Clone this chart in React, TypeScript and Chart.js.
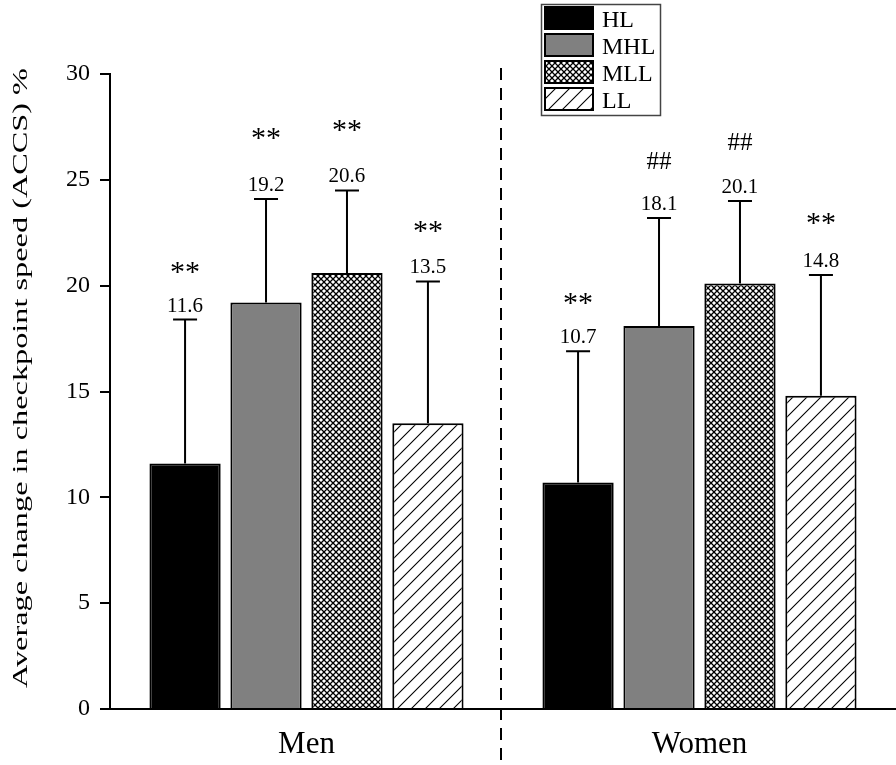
import React, { useEffect, useRef } from "react";
import { Chart, registerables } from "chart.js";

Chart.register(...registerables);

const categories = ["Men", "Women"];
const seriesLabels = ["HL", "MHL", "MLL", "LL"];
const hlValues = [11.6, 10.7];
const mhlValues = [19.2, 18.1];
const mllValues = [20.6, 20.1];
const llValues = [13.5, 14.8];
const hlSD = [6.8, 6.2];
const mhlSD = [4.9, 5.1];
const mllSD = [3.9, 3.9];
const llSD = [6.7, 5.7];
const hlMarks = ["**", "**"];
const mhlMarks = ["**", "##"];
const mllMarks = ["**", "##"];
const llMarks = ["**", "**"];
const hlMarkLevel = [20.9, 19.4];
const mhlMarkLevel = [27.2, 25.9];
const mllMarkLevel = [27.6, 26.8];
const llMarkLevel = [22.8, 23.2];
const yMin = 0;
const yMax = 30;
const yStep = 5;
const yTitle = "Average change in checkpoint speed (ACCS) %";

const SERIF = '"Liberation Serif", "Times New Roman", serif';

function makeCrossPattern(): CanvasPattern | string {
  const c = document.createElement("canvas");
  c.width = 6;
  c.height = 6;
  const g = c.getContext("2d");
  if (!g) return "#888";
  g.fillStyle = "#fff";
  g.fillRect(0, 0, 6, 6);
  g.strokeStyle = "#000";
  g.lineWidth = 1.3;
  g.beginPath();
  g.moveTo(0, 0);
  g.lineTo(6, 6);
  g.moveTo(6, 0);
  g.lineTo(0, 6);
  g.stroke();
  return g.createPattern(c, "repeat") || "#888";
}

function makeDiagPattern(): CanvasPattern | string {
  const s = 14;
  const c = document.createElement("canvas");
  c.width = s;
  c.height = s;
  const g = c.getContext("2d");
  if (!g) return "#fff";
  g.fillStyle = "#fff";
  g.fillRect(0, 0, s, s);
  g.strokeStyle = "#000";
  g.lineWidth = 1.1;
  g.beginPath();
  g.moveTo(0, s);
  g.lineTo(s, 0);
  g.moveTo(-2, 2);
  g.lineTo(2, -2);
  g.moveTo(s - 2, s + 2);
  g.lineTo(s + 2, s - 2);
  g.stroke();
  return g.createPattern(c, "repeat") || "#fff";
}

const annotationPlugin = {
  id: "annotations",
  afterDatasetsDraw(chart: any) {
    const ctx = chart.ctx;
    const yScale = chart.scales.y;
    ctx.save();
    chart.data.datasets.forEach((ds: any, i: number) => {
      const meta = chart.getDatasetMeta(i);
      meta.data.forEach((el: any, j: number) => {
        const v = ds.data[j];
        const sd = ds.sd[j];
        const x = el.x;
        const yTop = el.y;
        const yCap = yScale.getPixelForValue(v + sd);
        ctx.strokeStyle = "#000";
        ctx.lineWidth = 2;
        ctx.beginPath();
        ctx.moveTo(x, yTop);
        ctx.lineTo(x, yCap);
        ctx.moveTo(x - 12, yCap);
        ctx.lineTo(x + 12, yCap);
        ctx.stroke();
        ctx.fillStyle = "#000";
        ctx.textAlign = "center";
        ctx.textBaseline = "alphabetic";
        ctx.font = `21px ${SERIF}`;
        ctx.fillText(v.toFixed(1), x, yCap - 8);
        const mark = ds.marks[j];
        const my = yScale.getPixelForValue(ds.markLevel[j]);
        if (mark === "**") {
          ctx.font = `30px ${SERIF}`;
          ctx.fillText(mark, x, my + 14);
        } else {
          ctx.font = `25px ${SERIF}`;
          ctx.fillText(mark, x, my + 8);
        }
      });
    });
    ctx.restore();
  },
  afterDraw(chart: any) {
    const ctx = chart.ctx;
    const xScale = chart.scales.x;
    const area = chart.chartArea;
    ctx.save();
    // divider
    const xd = (xScale.getPixelForValue(0) + xScale.getPixelForValue(1)) / 2 - 2;
    ctx.strokeStyle = "#000";
    ctx.lineWidth = 2;
    ctx.setLineDash([12, 8]);
    ctx.beginPath();
    ctx.moveTo(xd, area.top - 6);
    ctx.lineTo(xd, chart.height);
    ctx.stroke();
    ctx.setLineDash([]);

    // y title (stretched along its length)
    ctx.translate(27, 378);
    ctx.rotate(-Math.PI / 2);
    ctx.font = `22px ${SERIF}`;
    const w = ctx.measureText(yTitle).width;
    ctx.scale(620 / w, 1);
    ctx.fillStyle = "#000";
    ctx.textAlign = "center";
    ctx.textBaseline = "alphabetic";
    ctx.fillText(yTitle, 0, 0);
    ctx.restore();

    // legend
    ctx.save();
    ctx.strokeStyle = "#444";
    ctx.lineWidth = 1.5;
    ctx.strokeRect(541.5, 4.5, 119, 111);
    const rowTop = [6, 33, 60, 87];
    chart.data.datasets.forEach((ds: any, i: number) => {
      const y0 = rowTop[i];
      ctx.fillStyle = ds.backgroundColor;
      ctx.fillRect(544, y0, 50, 24);
      ctx.strokeStyle = "#000";
      ctx.lineWidth = 2;
      ctx.strokeRect(545, y0 + 1, 48, 22);
      ctx.fillStyle = "#000";
      ctx.font = `24px ${SERIF}`;
      ctx.textAlign = "left";
      ctx.textBaseline = "alphabetic";
      ctx.fillText(ds.label, 602, y0 + 21);
    });
    ctx.restore();
  },
};

export default function App() {
  const ref = useRef<HTMLCanvasElement | null>(null);
  useEffect(() => {
    if (!ref.current) return;
    const cross = makeCrossPattern();
    const diag = makeDiagPattern();
    const common = {
      borderColor: "#000",
      borderWidth: 2,
      categoryPercentage: 0.824,
      barPercentage: 0.88,
    };
    const chart = new Chart(ref.current, {
      type: "bar",
      data: {
        labels: categories,
        datasets: [
          { ...common, label: seriesLabels[0], data: hlValues, backgroundColor: "#000", sd: hlSD, marks: hlMarks, markLevel: hlMarkLevel } as any,
          { ...common, label: seriesLabels[1], data: mhlValues, backgroundColor: "#808080", sd: mhlSD, marks: mhlMarks, markLevel: mhlMarkLevel } as any,
          { ...common, label: seriesLabels[2], data: mllValues, backgroundColor: cross, sd: mllSD, marks: mllMarks, markLevel: mllMarkLevel } as any,
          { ...common, label: seriesLabels[3], data: llValues, backgroundColor: diag, sd: llSD, marks: llMarks, markLevel: llMarkLevel } as any,
        ],
      },
      options: {
        responsive: false,
        animation: false,
        devicePixelRatio: 1,
        layout: { padding: { top: 74, left: 0, right: 0, bottom: 0 } },
        plugins: {
          legend: { display: false },
          tooltip: { enabled: false },
          title: { display: false },
        },
        scales: {
          x: {
            type: "category",
            grid: { display: false, drawTicks: false },
            border: { display: true, color: "#000", width: 2 },
            ticks: {
              color: "#000",
              font: { family: SERIF, size: 31 },
              padding: 17,
            },
            afterFit: (scale: any) => {
              scale.height = 56;
            },
          },
          y: {
            min: yMin,
            max: yMax,
            grid: {
              display: true,
              drawOnChartArea: false,
              drawTicks: true,
              tickLength: 10,
              color: "#000",
              lineWidth: 2,
            },
            border: { display: true, color: "#000", width: 2 },
            ticks: {
              stepSize: yStep,
              color: "#000",
              font: { family: SERIF, size: 24 },
              padding: 10,
            },
            afterFit: (scale: any) => {
              scale.width = 110;
            },
          },
        },
      } as any,
      plugins: [annotationPlugin],
    });
    return () => chart.destroy();
  }, []);
  return (
    <div style={{ position: "absolute", left: 0, top: 0, width: 896, height: 765, background: "#fff" }}>
      <canvas ref={ref} width={896} height={765} />
    </div>
  );
}
